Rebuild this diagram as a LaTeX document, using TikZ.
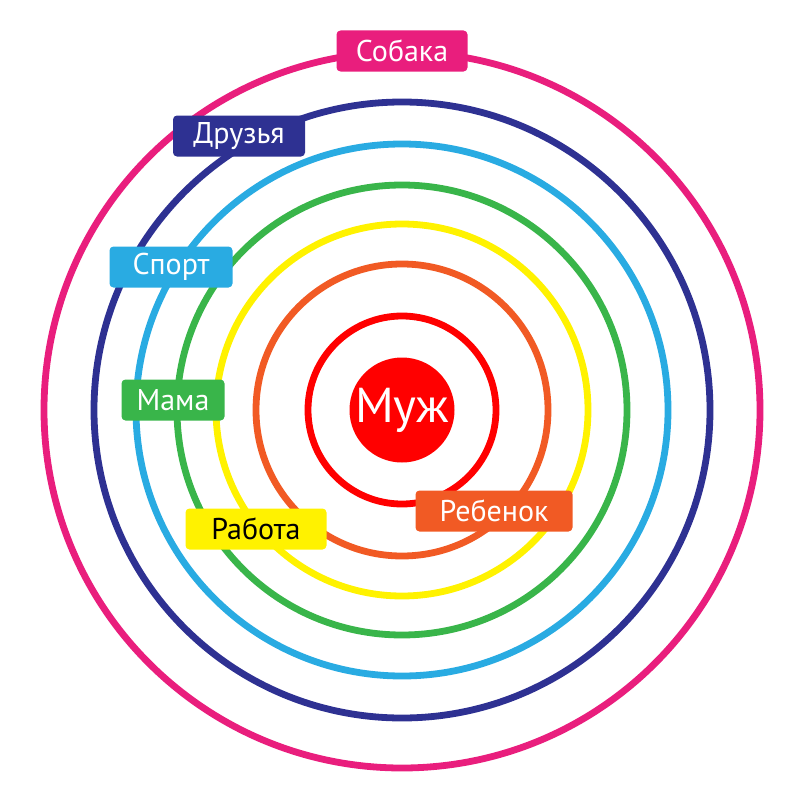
\documentclass[tikz,border=0pt]{standalone}
\usepackage{fontspec}
\setmainfont{PT Sans}
\usepackage{tikz}

\definecolor{ringpink}{HTML}{E91E7D}
\definecolor{ringnavy}{HTML}{2E3192}
\definecolor{ringblue}{HTML}{29ABE2}
\definecolor{ringgreen}{HTML}{39B54A}
\definecolor{ringyellow}{HTML}{FFF200}
\definecolor{ringorange}{HTML}{F15A24}
\definecolor{ringred}{HTML}{FF0000}

\begin{document}
\begin{tikzpicture}[x=1pt,y=-1pt]
        %
        % `ring' is used for the circles.
        % `tag' is used for the labels sitting on the circles.
        % `core' is used for the disk in the middle.
        \tikzstyle{ring} = [line width=6.8pt]
        \tikzstyle{tag} = [rounded corners=4pt,text=white,inner sep=0pt,minimum height=41pt,font=\fontsize{30}{32}\selectfont]
        \tikzstyle{core} = [circle,fill=ringred,text=white,inner sep=0pt,minimum size=105pt,font=\fontsize{49}{52}\selectfont]
        %
        \useasboundingbox (0,0) rectangle (800,800);
        \coordinate (c) at (402,410);
        %
        % Rings
        \draw[ring,ringpink] (c) circle (358);
        \draw[ring,ringnavy] (c) circle (308);
        \draw[ring,ringblue] (c) circle (266);
        \draw[ring,ringgreen] (c) circle (225);
        \draw[ring,ringyellow] (c) circle (186);
        \draw[ring,ringorange] (c) circle (146);
        \draw[ring,ringred] (c) circle (94);
        %
        % Centre
        \node[core] (muzh) at (c) {Муж};
        %
        % Labels
        \node[tag,fill=ringpink,minimum width=131pt] (sobaka) at (402,51) {Собака};
        \node[tag,fill=ringnavy,minimum width=132pt] (druzya) at (239,136) {Друзья};
        \node[tag,fill=ringblue,minimum width=123pt] (sport) at (171,267) {Спорт};
        \node[tag,fill=ringgreen,minimum width=103pt] (mama) at (173,400) {Мама};
        \node[tag,fill=yellow,text=black,minimum width=141pt] (rabota) at (256,529) {Работа};
        \node[tag,fill=ringorange,minimum width=157pt] (rebenok) at (494,511) {Ребенок};
        %
\end{tikzpicture}
\end{document}
